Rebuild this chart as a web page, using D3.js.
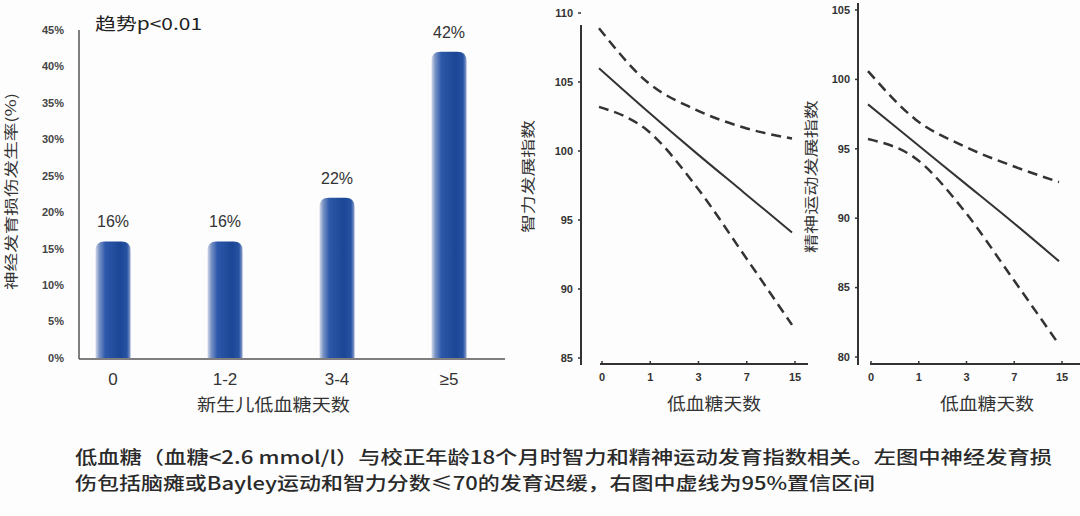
<!DOCTYPE html>
<html>
<head>
<meta charset="utf-8">
<script src="https://cdn.jsdelivr.net/npm/d3@7"></script>
<style>
  body { margin: 0; background: #fdfdfd; }
  svg { display: block; font-family: "Liberation Sans", Arial, "Noto Sans CJK SC", sans-serif; }
  .cjk { font-family: "Noto Sans CJK SC", sans-serif; }
</style>
</head>
<body>
<div id="chart"></div>
<script>
// left chart: incidence of neurodevelopmental impairment by days of hypoglycaemia
var groups = ["0", "1-2", "3-4", "≥5"];
var rates = [16, 16, 22, 42];
var rateTicks = [0, 5, 10, 15, 20, 25, 30, 35, 40, 45];

// right charts: days of hypoglycaemia vs developmental index
var days = [0, 1, 3, 7, 15];
var mdiEst = [106.0, 102.9, 99.9, 97.0, 94.1];
var mdiUpper = [108.9, 105.0, 103.0, 101.7, 100.9];
var mdiLower = [103.2, 101.5, 97.5, 92.5, 87.4];
var pdiEst = [98.2, 95.4, 92.6, 89.8, 86.9];
var pdiUpper = [100.6, 97.1, 95.2, 93.8, 92.6];
var pdiLower = [95.7, 94.3, 90.6, 85.8, 80.9];
var mdiTicks = [85, 90, 95, 100, 105, 110];
var pdiTicks = [80, 85, 90, 95, 100, 105];

var width = 1080, height = 516;

var svg = d3.select("#chart").append("svg")
    .attr("width", width)
    .attr("height", height);

svg.append("rect").attr("width", width).attr("height", height).attr("fill", "#fdfdfd");

var defs = svg.append("defs");
var grad = defs.append("linearGradient").attr("id", "barGrad")
    .attr("x1", "0%").attr("x2", "100%").attr("y1", "0%").attr("y2", "0%");
[["0%", "#d4dbea"], ["10%", "#7d96c6"], ["28%", "#2c58a9"], ["70%", "#1c4595"], ["90%", "#2753a3"], ["100%", "#8aa0cb"]]
    .forEach(function(s) { grad.append("stop").attr("offset", s[0]).attr("stop-color", s[1]); });

// ---------- left bar chart ----------
var y = d3.scaleLinear().domain([0, 45]).range([358, 30]);
var x = d3.scaleBand().domain(groups).range([57, 505]).paddingInner(0).paddingOuter(0);
var barW = 35;

var left = svg.append("g");

left.append("line").attr("x1", 79).attr("x2", 79).attr("y1", 30).attr("y2", 359)
    .attr("stroke", "#555").attr("stroke-width", 1.5);
left.append("line").attr("x1", 79).attr("x2", 505).attr("y1", 359).attr("y2", 359)
    .attr("stroke", "#555").attr("stroke-width", 1.5);

left.selectAll(".ytick").data(rateTicks).enter().append("text")
    .attr("x", 64).attr("y", function(d) { return y(d); })
    .attr("dy", "0.35em").attr("text-anchor", "end")
    .attr("font-size", 11).attr("font-weight", "bold").attr("fill", "#444")
    .text(function(d) { return d + "%"; });

function barPath(cx, top, bottom, w, r) {
    var x0 = cx - w / 2, x1 = cx + w / 2;
    return "M" + x0 + "," + bottom + "V" + (top + r) +
        "Q" + x0 + "," + top + " " + (x0 + r) + "," + top +
        "H" + (x1 - r) + "Q" + x1 + "," + top + " " + x1 + "," + (top + r) +
        "V" + bottom + "Z";
}

left.selectAll(".bar").data(rates).enter().append("path")
    .attr("d", function(d, i) {
        var cx = x(groups[i]) + x.bandwidth() / 2;
        return barPath(cx, y(d), 358, barW, 9);
    })
    .attr("fill", "url(#barGrad)");

left.selectAll(".val").data(rates).enter().append("text")
    .attr("x", function(d, i) { return x(groups[i]) + x.bandwidth() / 2; })
    .attr("y", function(d) { return y(d) - 14; })
    .attr("text-anchor", "middle").attr("font-size", 16).attr("fill", "#333")
    .text(function(d) { return d + "%"; });

left.selectAll(".xlab").data(groups).enter().append("text")
    .attr("x", function(d) { return x(d) + x.bandwidth() / 2; })
    .attr("y", 385).attr("text-anchor", "middle")
    .attr("font-size", 17).attr("fill", "#333")
    .text(function(d) { return d; });

left.append("text").attr("class", "cjk").attr("x", 197).attr("y", 411)
    .attr("font-size", 17).attr("fill", "#333")
    .attr("textLength", 153).attr("lengthAdjust", "spacingAndGlyphs")
    .text("新生儿低血糖天数");

left.append("text").attr("class", "cjk")
    .attr("transform", "translate(16,290) rotate(-90)")
    .attr("font-size", 14).attr("fill", "#333")
    .attr("textLength", 197).attr("lengthAdjust", "spacingAndGlyphs")
    .text("神经发育损伤发生率(%)");

left.append("text").attr("class", "cjk").attr("x", 95).attr("y", 30)
    .attr("font-size", 17).attr("fill", "#222")
    .attr("textLength", 107).attr("lengthAdjust", "spacingAndGlyphs")
    .text("趋势p<0.01");

// ---------- line charts ----------
function lineChart(opt) {
    var g = svg.append("g");
    var xs = d3.scaleSymlog().constant(1).domain([0, 15]).range(opt.xRange);
    var ys = d3.scaleLinear().domain(opt.yDomain).range(opt.yRange);

    g.append("line").attr("x1", opt.yAxisX).attr("x2", opt.yAxisX)
        .attr("y1", opt.yAxisTop).attr("y2", 365)
        .attr("stroke", "#333").attr("stroke-width", 2);
    g.append("line").attr("x1", opt.xAxisStart).attr("x2", opt.xAxisEnd)
        .attr("y1", 364).attr("y2", 364)
        .attr("stroke", "#333").attr("stroke-width", 2);

    g.selectAll(".yt").data(opt.ticks).enter().append("line")
        .attr("x1", opt.yAxisX - 3).attr("x2", opt.yAxisX)
        .attr("y1", function(d) { return ys(d); }).attr("y2", function(d) { return ys(d); })
        .attr("stroke", "#333").attr("stroke-width", 1.5);
    g.selectAll(".ytl").data(opt.ticks).enter().append("text")
        .attr("x", opt.yAxisX - 8).attr("y", function(d) { return ys(d); })
        .attr("dy", "0.35em").attr("text-anchor", "end")
        .attr("font-size", 11).attr("font-weight", "bold").attr("fill", "#333")
        .text(function(d) { return d; });

    g.selectAll(".xt").data(days).enter().append("line")
        .attr("x1", function(d) { return xs(d); }).attr("x2", function(d) { return xs(d); })
        .attr("y1", 361).attr("y2", 364)
        .attr("stroke", "#333").attr("stroke-width", 1.5);
    g.selectAll(".xtl").data(days).enter().append("text")
        .attr("x", function(d) { return xs(d); }).attr("y", 381)
        .attr("text-anchor", "middle")
        .attr("font-size", 11).attr("font-weight", "bold").attr("fill", "#333")
        .text(function(d) { return d; });

    g.append("text").attr("class", "cjk").attr("x", opt.titleX - 47).attr("y", 410)
        .attr("font-size", 17).attr("fill", "#333")
        .attr("textLength", 94).attr("lengthAdjust", "spacingAndGlyphs")
        .text("低血糖天数");
    g.append("text").attr("class", "cjk")
        .attr("transform", "translate(" + opt.yTitleX + "," + opt.yTitleBottom + ") rotate(-90)")
        .attr("font-size", 14).attr("fill", "#333")
        .attr("textLength", opt.yTitleLen).attr("lengthAdjust", "spacingAndGlyphs")
        .text(opt.yTitle);

    var line = d3.line()
        .x(function(d, i) { return xs(days[i]) - 3; })
        .y(function(d) { return ys(d); })
        .curve(d3.curveMonotoneX);

    g.append("path").attr("d", line(opt.est)).attr("fill", "none")
        .attr("stroke", "#333").attr("stroke-width", 2);
    [opt.upper, opt.lower].forEach(function(s) {
        g.append("path").attr("d", line(s)).attr("fill", "none")
            .attr("stroke", "#333").attr("stroke-width", 2.5)
            .attr("stroke-dasharray", "10,6");
    });
}

lineChart({
    xRange: [602, 795], yDomain: [85, 110], yRange: [358, 13],
    yAxisX: 581, yAxisTop: 25, xAxisStart: 600, xAxisEnd: 808,
    ticks: mdiTicks, titleX: 714, yTitleX: 533, yTitleBottom: 233, yTitleLen: 113,
    yTitle: "智力发展指数",
    est: mdiEst, upper: mdiUpper, lower: mdiLower
});

lineChart({
    xRange: [871, 1062], yDomain: [80, 105], yRange: [357, 10],
    yAxisX: 858, yAxisTop: 3, xAxisStart: 870, xAxisEnd: 1080,
    ticks: pdiTicks, titleX: 987, yTitleX: 816, yTitleBottom: 253, yTitleLen: 153,
    yTitle: "精神运动发展指数",
    est: pdiEst, upper: pdiUpper, lower: pdiLower
});

// ---------- caption ----------
var caption = [
    { text: "低血糖（血糖<2.6 mmol/l）与校正年龄18个月时智力和精神运动发育指数相关。左图中神经发育损", y: 464, len: 977 },
    { text: "伤包括脑瘫或Bayley运动和智力分数≤70的发育迟缓，右图中虚线为95%置信区间", y: 490, len: 800 }
];
svg.selectAll(".cap").data(caption).enter().append("text")
    .attr("class", "cjk")
    .attr("x", 75).attr("y", function(d) { return d.y; })
    .attr("font-size", 18).attr("font-weight", 500).attr("fill", "#2a2a2a")
    .attr("textLength", function(d) { return d.len; })
    .attr("lengthAdjust", "spacingAndGlyphs")
    .text(function(d) { return d.text; });
</script>
</body>
</html>
